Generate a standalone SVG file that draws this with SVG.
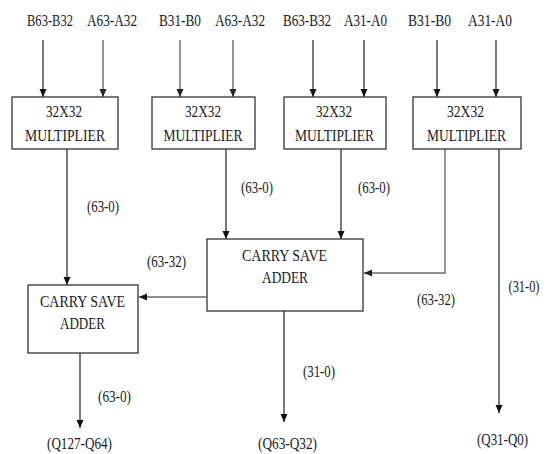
<svg xmlns="http://www.w3.org/2000/svg" width="549" height="454" viewBox="0 0 549 454">
<style>
.box{fill:#fff;stroke:#333;stroke-width:1.3}
.t{font-family:"Liberation Serif","Times New Roman",serif;font-size:16px;fill:#1a1a28;text-anchor:middle}
.ln{fill:none;stroke:#222;stroke-width:1.2}
.lg{fill:none;stroke:#6a6a6a;stroke-width:1.4}
</style>
<defs>
<marker id="ah" markerUnits="userSpaceOnUse" markerWidth="8" markerHeight="8" refX="8" refY="3.5" orient="auto"><path d="M0,0 L8,3.5 L0,7 z" fill="#111"/></marker>
<marker id="ahg" markerUnits="userSpaceOnUse" markerWidth="8" markerHeight="8" refX="8" refY="3.5" orient="auto"><path d="M0,0 L8,3.5 L0,7 z" fill="#222"/></marker>
</defs>
<rect width="549" height="454" fill="#fff"/>

<g id="connectors">
<line class="ln" x1="43" y1="40" x2="43" y2="97" marker-end="url(#ah)"/>
<line class="lg" x1="103" y1="40" x2="103" y2="97" marker-end="url(#ahg)"/>
<line class="lg" x1="180" y1="40" x2="180" y2="97" marker-end="url(#ahg)"/>
<line class="lg" x1="233" y1="40" x2="233" y2="97" marker-end="url(#ahg)"/>
<line class="ln" x1="313" y1="40" x2="313" y2="97" marker-end="url(#ah)"/>
<line class="ln" x1="364" y1="40" x2="364" y2="97" marker-end="url(#ah)"/>
<line class="ln" x1="437" y1="40" x2="437" y2="97" marker-end="url(#ah)"/>
<line class="ln" x1="496" y1="40" x2="496" y2="97" marker-end="url(#ah)"/>

<line class="ln" x1="67" y1="149" x2="67" y2="285" marker-end="url(#ah)"/>
<line class="ln" x1="226" y1="149" x2="226" y2="239" marker-end="url(#ah)"/>
<line class="ln" x1="341" y1="149" x2="341" y2="239" marker-end="url(#ah)"/>
<polyline class="lg" points="445,149 445,273 364,273" marker-end="url(#ahg)"/>
<line class="ln" x1="499" y1="149" x2="499" y2="413" marker-end="url(#ah)"/>
<line class="ln" x1="207" y1="297" x2="139" y2="297" marker-end="url(#ah)"/>
<line class="ln" x1="284" y1="311" x2="284" y2="422" marker-end="url(#ah)"/>
<line class="ln" x1="80" y1="353" x2="80" y2="428" marker-end="url(#ah)"/>
</g>

<g id="labels">
<text class="t" x="50" y="26" textLength="46" lengthAdjust="spacingAndGlyphs">B63-B32</text>
<text class="t" x="112" y="26" textLength="50" lengthAdjust="spacingAndGlyphs">A63-A32</text>
<text class="t" x="180" y="26" textLength="42" lengthAdjust="spacingAndGlyphs">B31-B0</text>
<text class="t" x="240" y="26" textLength="50" lengthAdjust="spacingAndGlyphs">A63-A32</text>
<text class="t" x="307" y="26" textLength="48" lengthAdjust="spacingAndGlyphs">B63-B32</text>
<text class="t" x="365.5" y="26" textLength="43" lengthAdjust="spacingAndGlyphs">A31-A0</text>
<text class="t" x="429.5" y="26" textLength="43" lengthAdjust="spacingAndGlyphs">B31-B0</text>
<text class="t" x="490" y="26" textLength="44" lengthAdjust="spacingAndGlyphs">A31-A0</text>

<text class="t" x="103" y="212" textLength="32" lengthAdjust="spacingAndGlyphs">(63-0)</text>
<text class="t" x="257" y="193" textLength="32" lengthAdjust="spacingAndGlyphs">(63-0)</text>
<text class="t" x="374" y="193" textLength="32" lengthAdjust="spacingAndGlyphs">(63-0)</text>
<text class="t" x="166.5" y="267" textLength="39" lengthAdjust="spacingAndGlyphs">(63-32)</text>
<text class="t" x="436" y="305" textLength="38" lengthAdjust="spacingAndGlyphs">(63-32)</text>
<text class="t" x="524" y="292" textLength="31" lengthAdjust="spacingAndGlyphs">(31-0)</text>
<text class="t" x="319" y="377" textLength="32" lengthAdjust="spacingAndGlyphs">(31-0)</text>
<text class="t" x="114.5" y="402" textLength="33" lengthAdjust="spacingAndGlyphs">(63-0)</text>
<text class="t" x="79.5" y="449" textLength="65" lengthAdjust="spacingAndGlyphs">(Q127-Q64)</text>
<text class="t" x="287.5" y="449" textLength="59" lengthAdjust="spacingAndGlyphs">(Q63-Q32)</text>
<text class="t" x="502.5" y="445" textLength="51" lengthAdjust="spacingAndGlyphs">(Q31-Q0)</text>
</g>

<g id="mult1">
<rect class="box" x="12" y="97" width="106" height="52"/>
<text class="t" x="64" y="117" textLength="36" lengthAdjust="spacingAndGlyphs">32X32</text>
<text class="t" x="65" y="141" textLength="80" lengthAdjust="spacingAndGlyphs">MULTIPLIER</text>
</g>
<g id="mult2">
<rect class="box" x="152" y="97" width="103" height="52"/>
<text class="t" x="203" y="117" textLength="36" lengthAdjust="spacingAndGlyphs">32X32</text>
<text class="t" x="203" y="141" textLength="79" lengthAdjust="spacingAndGlyphs">MULTIPLIER</text>
</g>
<g id="mult3">
<rect class="box" x="284" y="97" width="102" height="52"/>
<text class="t" x="334" y="117" textLength="36" lengthAdjust="spacingAndGlyphs">32X32</text>
<text class="t" x="334.5" y="141" textLength="79" lengthAdjust="spacingAndGlyphs">MULTIPLIER</text>
</g>
<g id="mult4">
<rect class="box" x="413" y="97" width="108" height="52"/>
<text class="t" x="465.5" y="117" textLength="37" lengthAdjust="spacingAndGlyphs">32X32</text>
<text class="t" x="466.5" y="141" textLength="79" lengthAdjust="spacingAndGlyphs">MULTIPLIER</text>
</g>
<g id="csa2">
<rect class="box" x="207" y="239" width="156" height="72"/>
<text class="t" x="284.5" y="261" textLength="85" lengthAdjust="spacingAndGlyphs">CARRY SAVE</text>
<text class="t" x="285" y="283" textLength="46" lengthAdjust="spacingAndGlyphs">ADDER</text>
</g>
<g id="csa1">
<rect class="box" x="28" y="285" width="110" height="68"/>
<text class="t" x="82.5" y="307" textLength="85" lengthAdjust="spacingAndGlyphs">CARRY SAVE</text>
<text class="t" x="82.5" y="329" textLength="45" lengthAdjust="spacingAndGlyphs">ADDER</text>
</g>
</svg>
